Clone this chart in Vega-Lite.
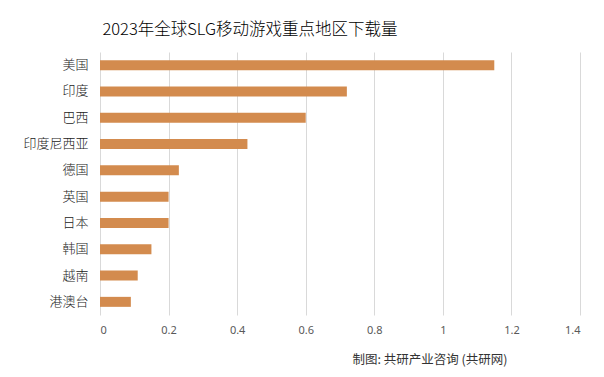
{
  "$schema": "https://vega.github.io/schema/vega-lite/v6.json",
  "width": 480,
  "height": 263,
  "autosize": "none",
  "padding": {"left": 100, "top": 52, "right": 24, "bottom": 62},
  "background": "#ffffff",
  "title": {
    "text": "2023年全球SLG移动游戏重点地区下载量",
    "anchor": "middle",
    "dx": -90,
    "offset": 14,
    "font": "Noto Sans CJK SC",
    "fontSize": 16.5,
    "fontWeight": 300,
    "color": "#000000"
  },
  "data": {
    "values": [
      {"region": "美国", "value": 1.15},
      {"region": "印度", "value": 0.72},
      {"region": "巴西", "value": 0.6},
      {"region": "印度尼西亚", "value": 0.43},
      {"region": "德国", "value": 0.23},
      {"region": "英国", "value": 0.2},
      {"region": "日本", "value": 0.2},
      {"region": "韩国", "value": 0.15},
      {"region": "越南", "value": 0.11},
      {"region": "港澳台", "value": 0.09}
    ]
  },
  "mark": {"type": "bar", "color": "#D38B4E"},
  "encoding": {
    "y": {
      "field": "region",
      "type": "nominal",
      "sort": null,
      "scale": {"paddingInner": 0.62, "paddingOuter": 0.31},
      "axis": {
        "title": null,
        "domain": false,
        "ticks": false,
        "labelPadding": 12,
        "labelFont": "Noto Sans CJK SC",
        "labelFontSize": 13,
        "labelFontWeight": 300,
        "labelColor": "#222222"
      }
    },
    "x": {
      "field": "value",
      "type": "quantitative",
      "scale": {"domain": [0, 1.4], "nice": false},
      "axis": {
        "values": [0, 0.2, 0.4, 0.6, 0.8, 1, 1.2, 1.4],
        "labelExpr": "format(datum.value, '~g')",
        "title": "制图: 共研产业咨询 (共研网)",
        "titleFont": "Noto Sans CJK SC",
        "titleFontSize": 12.5,
        "titleFontWeight": "normal",
        "titleColor": "#333333",
        "titleAnchor": "end",
        "titleAlign": "right",
        "titleX": 407,
        "titleY": 44,
        "titleBaseline": "middle",
        "domain": false,
        "ticks": false,
        "grid": true,
        "gridColor": "#d9d9d9",
        "gridWidth": 1,
        "labelPadding": 9,
        "labelFont": "Noto Sans",
        "labelFontSize": 11,
        "labelColor": "#595959"
      }
    }
  },
  "config": {"view": {"stroke": null}}
}
